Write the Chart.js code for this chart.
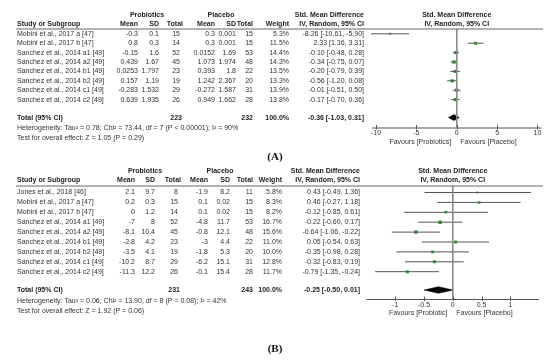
<!DOCTYPE html>
<html>
<head>
<meta charset="utf-8">
<script src="https://cdn.jsdelivr.net/npm/chart.js@4.4.1/dist/chart.umd.min.js"></script>
<style>
  html, body { margin: 0; padding: 0; background: #fff; width: 550px; height: 364px; overflow: hidden; }
  canvas { position: absolute; left: 0; }
  #chartA { top: 0; }
  #chartB { top: 162px; }
</style>
</head>
<body>
<canvas id="chartA" width="550" height="162"></canvas>
<canvas id="chartB" width="550" height="202"></canvas>
<script>
// ---- panel A data ----
const studiesA = ["Mobini et al., 2017 a [47]", "Mobini et al., 2017 b [47]", "Sanchez et al., 2014 a1 [49]",
  "Sanchez et al., 2014 a2 [49]", "Sanchez et al., 2014 b1 [49]", "Sanchez et al., 2014 b2 [49]",
  "Sanchez et al., 2014 c1 [49]", "Sanchez et al., 2014 c2 [49]"];
const probMeanA = [-0.3, 0.8, -0.15, 0.439, 0.0253, 0.157, -0.283, 0.639];
const probSdA = [0.1, 0.3, 1.6, 1.67, 1.797, 1.19, 1.532, 1.935];
const probNA = [15, 14, 52, 45, 23, 19, 29, 26];
const placMeanA = [0.3, 0.3, 0.0152, 1.073, 0.393, 1.242, -0.272, 0.949];
const placSdA = [0.001, 0.001, 1.69, 1.974, 1.8, 2.367, 1.587, 1.662];
const placNA = [15, 15, 53, 48, 22, 20, 31, 28];
const weightA = [5.3, 11.5, 14.4, 14.3, 13.5, 13.3, 13.9, 13.8];
const smdA = [-8.26, 2.33, -0.10, -0.34, -0.20, -0.56, -0.01, -0.17];
const loA = [-10.61, 1.36, -0.48, -0.75, -0.79, -1.20, -0.51, -0.70];
const hiA = [-5.90, 3.31, 0.28, 0.07, 0.39, 0.08, 0.50, 0.36];
const totalA = { smd: -0.36, lo: -1.03, hi: 0.31, probN: 223, placN: 232 };
const hetA = "Heterogeneity: Tau\u00b2 = 0.78; Chi\u00b2 = 73.44, df = 7 (P < 0.00001); I\u00b2 = 90%";
const testA = "Test for overall effect: Z = 1.05 (P = 0.29)";
const ticksA = [-10, -5, 0, 5, 10];
const favoursA = ["Favours [Probiotics]", "Favours [Placebo]"];

// ---- panel B data ----
const studiesB = ["Jones et al., 2018 [46]", "Mobini et al., 2017 a [47]", "Mobini et al., 2017 b [47]",
  "Sanchez et al., 2014 a1 [49]", "Sanchez et al., 2014 a2 [49]", "Sanchez et al., 2014 b1 [49]",
  "Sanchez et al., 2014 b2 [49]", "Sanchez et al., 2014 c1 [49]", "Sanchez et al., 2014 c2 [49]"];
const probMeanB = [2.1, 0.2, 0, -7, -8.1, -2.8, -3.5, -10.2, -11.3];
const probSdB = [9.7, 0.3, 1.2, 8, 10.4, 4.2, 4.1, 8.7, 12.2];
const probNB = [8, 15, 14, 52, 45, 23, 19, 29, 26];
const placMeanB = [-1.9, 0.1, 0.1, -4.8, -0.8, -3, -1.8, -6.2, -0.1];
const placSdB = [8.2, 0.02, 0.02, 11.7, 12.1, 4.4, 5.3, 15.1, 15.4];
const placNB = [11, 15, 15, 53, 48, 22, 20, 31, 28];
const weightB = [5.8, 8.3, 8.2, 16.7, 15.6, 11.0, 10.0, 12.8, 11.7];
const smdB = [0.43, 0.46, -0.12, -0.22, -0.64, 0.05, -0.35, -0.32, -0.79];
const loB = [-0.49, -0.27, -0.85, -0.60, -1.06, -0.54, -0.98, -0.83, -1.35];
const hiB = [1.36, 1.18, 0.61, 0.17, -0.22, 0.63, 0.28, 0.19, -0.24];
const totalB = { smd: -0.25, lo: -0.50, hi: 0.01, probN: 231, placN: 243 };
const hetB = "Heterogeneity: Tau\u00b2 = 0.06; Chi\u00b2 = 13.90, df = 8 (P = 0.08); I\u00b2 = 42%";
const testB = "Test for overall effect: Z = 1.92 (P = 0.06)";
const ticksB = [-1, -0.5, 0, 0.5, 1];
const favoursB = ["Favours [Probiotic]", "Favours [Placebo]"];

const FONT = "'Liberation Sans', Arial, sans-serif";
const TEXT = "#333";
const GREEN = "#2aa52a";

function txt(ctx, s, x, y, align, bold) {
  ctx.font = (bold ? "bold " : "") + "7px " + FONT;
  ctx.fillStyle = bold ? "#222" : TEXT;
  ctx.textAlign = align;
  ctx.textBaseline = "middle";
  ctx.fillText(s, x, y);
}

const f2 = v => v.toFixed(2);
const ciText = (e, l, h) => `${f2(e)} [${f2(l)}, ${f2(h)}]`;

function tablePlugin(p, L) {
  return {
    id: "table",
    afterDraw(chart) {
      const { ctx, chartArea } = chart;
      const ys = chart.scales.y, xs = chart.scales.x;
      const c = L.cols;
      const x0 = xs.getPixelForValue(0);
      const plotMid = (chartArea.left + chartArea.right) / 2;
      ctx.save();

      // headers
      txt(ctx, "Probiotics", c.probHead, L.head1, "center", true);
      txt(ctx, "Placebo", c.placHead, L.head1, "center", true);
      txt(ctx, "Std. Mean Difference", c.ci, L.head1, "right", true);
      txt(ctx, "Std. Mean Difference", plotMid, L.head1, "center", true);
      txt(ctx, "Study or Subgroup", c.name, L.head2, "left", true);
      txt(ctx, "Mean", c.pm, L.head2, "right", true);
      txt(ctx, "SD", c.psd, L.head2, "right", true);
      txt(ctx, "Total", c.pt + 3, L.head2, "right", true);
      txt(ctx, "Mean", c.cm, L.head2, "right", true);
      txt(ctx, "SD", c.csd, L.head2, "right", true);
      txt(ctx, "Total", c.ct, L.head2, "right", true);
      txt(ctx, "Weight", c.w, L.head2, "right", true);
      txt(ctx, "IV, Random, 95% CI", c.ci, L.head2, "right", true);
      txt(ctx, "IV, Random, 95% CI", plotMid, L.head2, "center", true);

      ctx.strokeStyle = "#666";
      ctx.lineWidth = 1;
      ctx.beginPath();
      ctx.moveTo(16, chartArea.top);
      ctx.lineTo(543, chartArea.top);
      ctx.stroke();

      // study rows
      p.studies.forEach((s, i) => {
        const y = ys.getPixelForValue(i);
        txt(ctx, s, c.name, y, "left");
        txt(ctx, String(p.probMean[i]), c.pm, y, "right");
        txt(ctx, String(p.probSd[i]), c.psd, y, "right");
        txt(ctx, String(p.probN[i]), c.pt, y, "right");
        txt(ctx, String(p.placMean[i]), c.cm, y, "right");
        txt(ctx, String(p.placSd[i]), c.csd, y, "right");
        txt(ctx, String(p.placN[i]), c.ct, y, "right");
        txt(ctx, p.weight[i].toFixed(1) + "%", c.w, y, "right");
        txt(ctx, ciText(p.smd[i], p.lo[i], p.hi[i]), c.ci, y, "right");
      });

      // total row
      const ty = ys.getPixelForValue(L.totalRow);
      txt(ctx, "Total (95% CI)", c.name, ty, "left", true);
      txt(ctx, String(p.total.probN), c.pt + 2, ty, "right", true);
      txt(ctx, String(p.total.placN), c.ct, ty, "right", true);
      txt(ctx, "100.0%", c.w, ty, "right", true);
      txt(ctx, ciText(p.total.smd, p.total.lo, p.total.hi), c.ci, ty, "right", true);
      txt(ctx, p.het, c.name, L.het, "left");
      txt(ctx, p.test, c.name, L.test, "left");

      // x axis
      const ay = chartArea.bottom + 0.5;
      ctx.strokeStyle = "#555";
      ctx.beginPath();
      ctx.moveTo(chartArea.left, ay);
      ctx.lineTo(chartArea.right, ay);
      p.ticks.forEach(t => {
        const tx = Math.round(xs.getPixelForValue(t)) + 0.5;
        ctx.moveTo(tx, ay - 3);
        ctx.lineTo(tx, ay + 1.5);
      });
      ctx.stroke();
      p.ticks.forEach(t => txt(ctx, String(t), xs.getPixelForValue(t), L.tickY, "center"));
      txt(ctx, p.favours[0], x0 - 5.5, L.fav, "right");
      txt(ctx, p.favours[1], x0 + 3.5, L.fav, "left");

      // panel label
      ctx.font = "bold 11px 'Liberation Serif', 'Times New Roman', serif";
      ctx.fillStyle = "#111";
      ctx.textAlign = "center";
      ctx.textBaseline = "middle";
      ctx.fillText(L.label, 275, L.labelY);
      ctx.restore();
    }
  };
}

function makePanel(id, p, L) {
  const el = document.getElementById(id);
  const W = el.width, H = el.height;
  const yMin = (L.lineY - L.row0) / L.rowGap;
  const yMax = (L.axisY - L.row0) / L.rowGap;
  L.totalRow = (L.totalY - L.row0) / L.rowGap;
  const T = L.totalRow, h = L.diamondHalf / L.rowGap;

  const datasets = [];
  datasets.push({
    data: [{ x: 0, y: yMin }, { x: 0, y: yMax }],
    showLine: true, borderColor: "#888", borderWidth: 1, pointRadius: 0, clip: false
  });
  p.studies.forEach((s, i) => {
    datasets.push({
      data: [{ x: p.lo[i], y: i }, { x: p.hi[i], y: i }],
      showLine: true, borderColor: "#555", borderWidth: 1, pointRadius: 0, clip: false
    });
  });
  datasets.push({
    data: p.smd.map((v, i) => ({ x: v, y: i })),
    pointStyle: "rect",
    pointRadius: ctx => 0.62 * Math.sqrt(p.weight[ctx.dataIndex]),
    backgroundColor: GREEN, borderColor: GREEN, borderWidth: 0
  });
  datasets.push({
    data: [{ x: p.total.lo, y: T }, { x: p.total.smd, y: T - h }, { x: p.total.hi, y: T },
           { x: p.total.smd, y: T + h }, { x: p.total.lo, y: T }],
    showLine: true, fill: "shape", backgroundColor: "#000", borderColor: "#000",
    borderWidth: 0.5, pointRadius: 0
  });

  new Chart(el, {
    type: "scatter",
    data: { datasets },
    options: {
      responsive: false,
      animation: false,
      devicePixelRatio: 1,
      layout: { padding: { left: L.plotLeft, right: W - L.plotRight, top: L.lineY, bottom: H - L.axisY } },
      scales: {
        x: { type: "linear", display: false, min: L.xMin, max: L.xMax },
        y: { type: "linear", display: false, reverse: true, min: yMin, max: yMax }
      },
      plugins: { legend: { display: false }, tooltip: { enabled: false } }
    },
    plugins: [tablePlugin(p, L)]
  });
}

makePanel("chartA", {
  studies: studiesA, probMean: probMeanA, probSd: probSdA, probN: probNA,
  placMean: placMeanA, placSd: placSdA, placN: placNA, weight: weightA,
  smd: smdA, lo: loA, hi: hiA, total: totalA, het: hetA, test: testA,
  ticks: ticksA, favours: favoursA
}, {
  head1: 15, head2: 24, lineY: 29, row0: 33.8, rowGap: 9.4, totalY: 117.6,
  het: 128, test: 138, axisY: 127.5, tickY: 133.5, fav: 142, label: "(A)", labelY: 157,
  plotLeft: 372, plotRight: 541.5, xMin: -10.5, xMax: 10.5, diamondHalf: 3,
  cols: { name: 17, pm: 138, psd: 159, pt: 180, cm: 215, csd: 236, ct: 253, w: 289, ci: 364,
          probHead: 147, placHead: 221 }
});

makePanel("chartB", {
  studies: studiesB, probMean: probMeanB, probSd: probSdB, probN: probNB,
  placMean: placMeanB, placSd: placSdB, placN: placNB, weight: weightB,
  smd: smdB, lo: loB, hi: hiB, total: totalB, het: hetB, test: testB,
  ticks: ticksB, favours: favoursB
}, {
  head1: 9.5, head2: 18.5, lineY: 24, row0: 30.5, rowGap: 9.9, totalY: 128,
  het: 138.7, test: 149, axisY: 137, tickY: 143, fav: 151.3, label: "(B)", labelY: 187,
  plotLeft: 366.5, plotRight: 539, xMin: -1.5, xMax: 1.5, diamondHalf: 3.3,
  cols: { name: 17, pm: 135, psd: 155, pt: 178, cm: 208, csd: 230, ct: 253, w: 282, ci: 360,
          probHead: 145, placHead: 220 }
});
</script>
</body>
</html>
